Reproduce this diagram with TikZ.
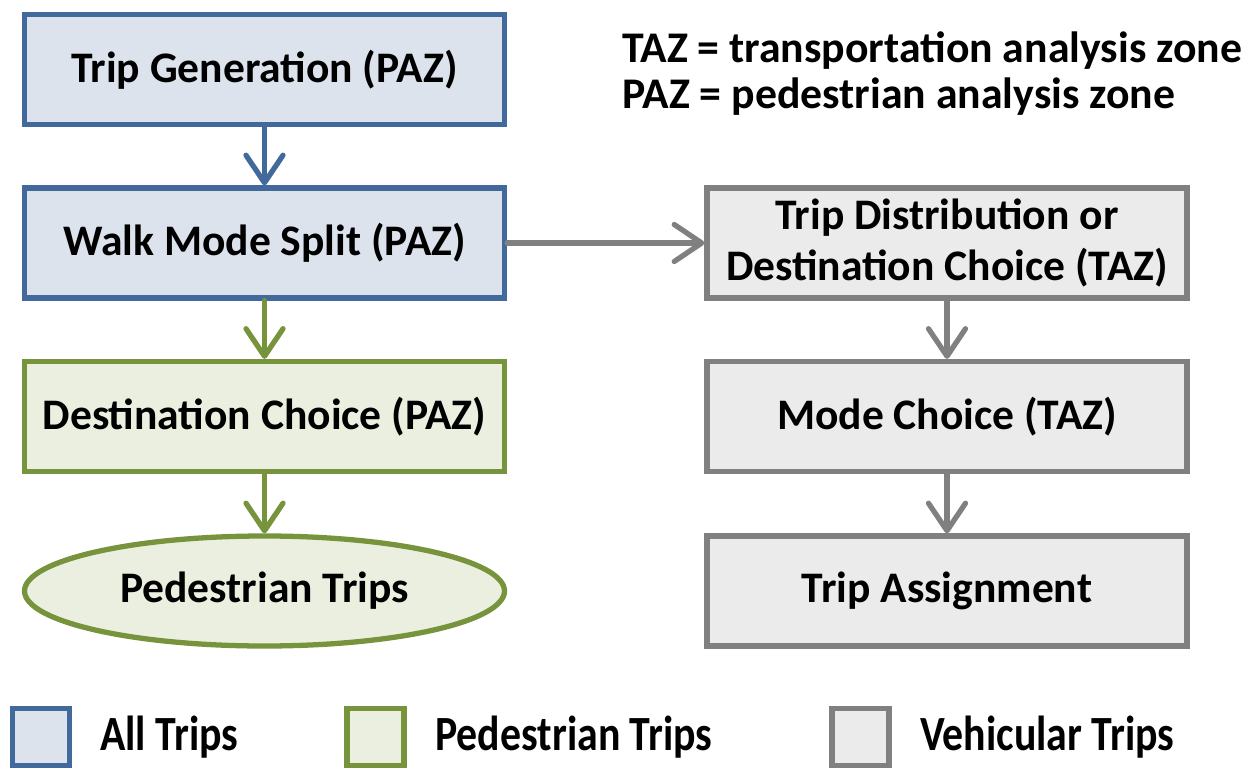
\documentclass[tikz,border=0pt]{standalone}
\usepackage{fontspec}
\setmainfont{Carlito}
\usetikzlibrary{shapes.geometric,arrows.meta}

\definecolor{allline}{HTML}{41699C}
\definecolor{allfill}{HTML}{DCE3ED}
\definecolor{pedline}{HTML}{77933C}
\definecolor{pedfill}{HTML}{EAEFE0}
\definecolor{vehline}{HTML}{808080}
\definecolor{vehfill}{HTML}{EBEBEB}

\tikzset{
  stepbox/.style={draw, line width=3pt, minimum width=9.6cm, minimum height=2.2cm,
    align=center, inner sep=0pt, font=\fontsize{24.8}{29.5}\selectfont\bfseries},
  allbox/.style={stepbox, draw=allline, fill=allfill},
  pedbox/.style={stepbox, draw=pedline, fill=pedfill},
  vehbox/.style={stepbox, draw=vehline, fill=vehfill},
  flow/.style={line width=3pt, line cap=round,
    -{Straight Barb[length=5.5mm, width=7.4mm, line cap=round, line join=round]}},
  keybox/.style={draw, line width=3pt, minimum width=1.14cm, minimum height=1.14cm, inner sep=0pt},
  keytext/.style={right, inner sep=0pt, font=\fontsize{28}{32}\selectfont\bfseries}
}

\begin{document}
\begin{tikzpicture}
        \useasboundingbox (0, 0) rectangle (25.02, 15.4);

        % Colonna sinistra (PAZ)
        \node[allbox] (tripgen) at (5.29, 14.01) {Trip Generation (PAZ)};
        \node[allbox] (walksplit) at (5.29, 10.54) {Walk Mode Split (PAZ)};
        \node[pedbox] (peddest) at (5.29, 7.07) {Destination Choice (PAZ)};
        \node[pedbox, ellipse, minimum height=2.2cm] (pedtrips) at (5.29, 3.58) {Pedestrian Trips};

        % Colonna destra (TAZ)
        \node[vehbox] (tripdist) at (18.94, 10.54) {Trip Distribution or\\Destination Choice (TAZ)};
        \node[vehbox] (modechoice) at (18.94, 7.07) {Mode Choice (TAZ)};
        \node[vehbox] (assign) at (18.94, 3.58) {Trip Assignment};

        % Frecce
        \draw[flow, allline] (tripgen) -- (walksplit);
        \draw[flow, pedline] (walksplit) -- (peddest);
        \draw[flow, pedline] (peddest) -- (pedtrips);
        \draw[flow, vehline] (walksplit) -- (tripdist);
        \draw[flow, vehline] (tripdist) -- (modechoice);
        \draw[flow, vehline] (modechoice) -- (assign);

        % Sigle
        \node[right, align=left, inner sep=0pt, font=\fontsize{24.9}{26.6}\selectfont\bfseries] (zones) at (12.44, 13.93)
          {TAZ = transportation analysis zone\\PAZ = pedestrian analysis zone};

        % Legenda
        \node[keybox, draw=allline, fill=allfill] (keyall) at (0.82, 0.66) {};
        \node[keybox, draw=pedline, fill=pedfill] (keyped) at (7.51, 0.66) {};
        \node[keybox, draw=vehline, fill=vehfill] (keyveh) at (17.21, 0.66) {};
        \node[keytext] (keyalltext) at (2.0, 0.66) {\scalebox{0.85}[1]{All Trips}};
        \node[keytext] (keypedtext) at (8.7, 0.66) {\scalebox{0.85}[1]{Pedestrian Trips}};
        \node[keytext] (keyvehtext) at (18.4, 0.66) {\scalebox{0.85}[1]{Vehicular Trips}};

    \end{tikzpicture}
\end{document}
